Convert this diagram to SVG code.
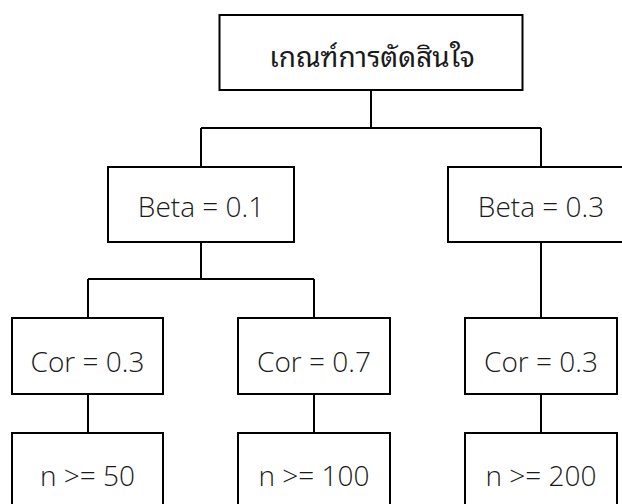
<svg xmlns="http://www.w3.org/2000/svg" width="622" height="504" viewBox="0 0 622 504">
<style>
rect{fill:#fff;stroke:#000;stroke-width:2}
.c{fill:none;stroke:#000;stroke-width:2}
text{font-family:"Open Sans","Noto Sans","DejaVu Sans",sans-serif;font-size:28px;font-weight:300;text-anchor:middle;fill:#1a1a1a}
.th{font-family:"Noto Sans Thai Looped","Loma","Garuda","Noto Sans Thai","Noto Sans",sans-serif;font-size:28px;font-weight:400}
</style>
<rect x="0" y="0" width="622" height="504" style="stroke:none"/>
<g id="connectors">
<path class="c" d="M371 90V128M201 128H541M201 128V167M541 128V167"/>
<path class="c" d="M201 242V279M88 279H314M88 279V318M314 279V318M541 242V318"/>
<path class="c" d="M88 394V433M314 394V433M541 394V433"/>
</g>
<g id="root"><rect x="219.5" y="15" width="303" height="75"/><text class="th" x="372" y="67">เกณฑ์การตัดสินใจ</text></g>
<g id="beta01"><rect x="108" y="167" width="186" height="75"/><text x="201" y="217">Beta = 0.1</text></g>
<g id="beta03"><rect x="448" y="167" width="186" height="75"/><text x="541" y="217">Beta = 0.3</text></g>
<g id="cor1"><rect x="12" y="318" width="151" height="76"/><text x="87.5" y="372">Cor = 0.3</text></g>
<g id="cor2"><rect x="238" y="318" width="152" height="76"/><text x="314" y="372">Cor = 0.7</text></g>
<g id="cor3"><rect x="465" y="318" width="152" height="76"/><text x="541" y="372">Cor = 0.3</text></g>
<g id="n1"><rect x="12" y="433" width="151" height="76"/><text x="87.5" y="486">n &gt;= 50</text></g>
<g id="n2"><rect x="238" y="433" width="152" height="76"/><text x="314" y="486">n &gt;= 100</text></g>
<g id="n3"><rect x="465" y="433" width="152" height="76"/><text x="541" y="486">n &gt;= 200</text></g>
</svg>
